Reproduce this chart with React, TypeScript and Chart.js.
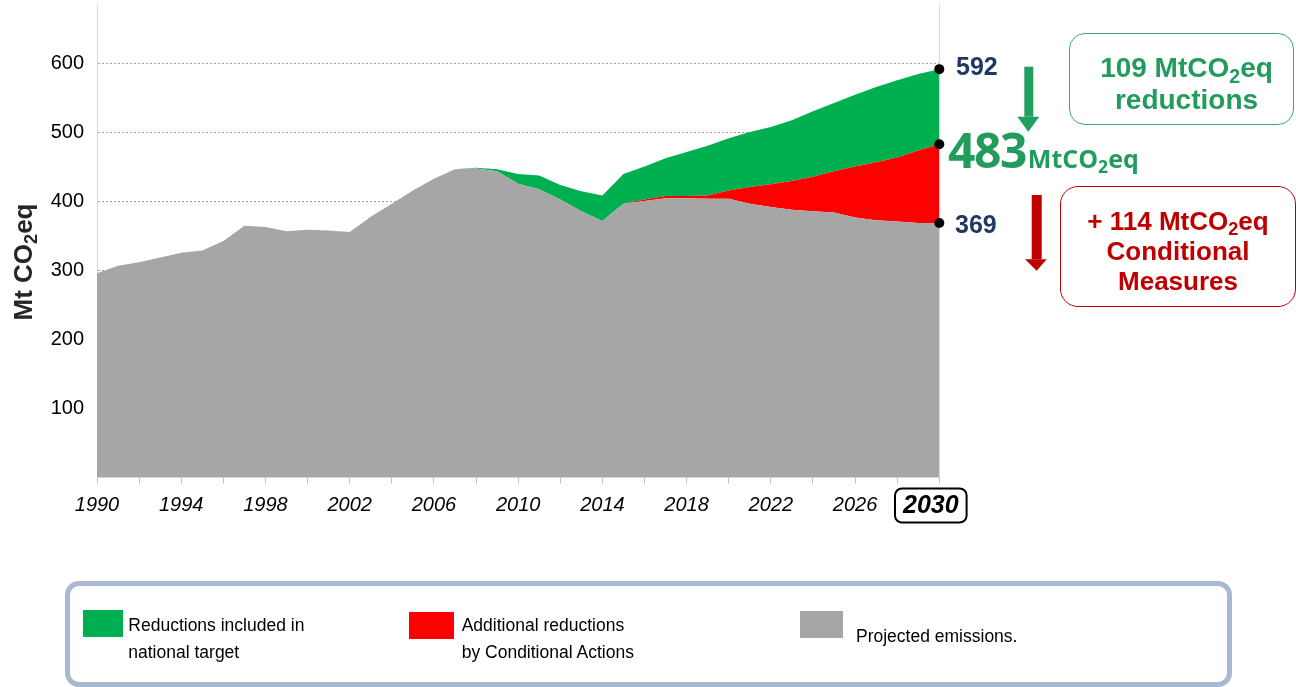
import React, { useEffect, useRef } from 'react';
import { Chart, registerables } from 'chart.js';

Chart.register(...registerables);

// ---------- data ----------
const years = [
  1990, 1991, 1992, 1993, 1994, 1995, 1996, 1997, 1998, 1999,
  2000, 2001, 2002, 2003, 2004, 2005, 2006, 2007, 2008, 2009,
  2010, 2011, 2012, 2013, 2014, 2015, 2016, 2017, 2018, 2019,
  2020, 2021, 2022, 2023, 2024, 2025, 2026, 2027, 2028, 2029, 2030,
];

// Projected emissions (grey)
const projectedEmissions = [
  296, 307, 312, 319, 326, 329, 343, 365, 363, 357,
  359, 358, 356, 378, 397, 416, 433, 447, 448, 444,
  426, 418, 403, 386, 372, 397, 401, 405, 405, 404,
  404, 397, 392, 388, 386, 384, 377, 373, 371, 369, 369,
];

// Top of the red band (emissions without conditional actions)
const conditionalTop = [
  null, null, null, null, null, null, null, null, null, null,
  null, null, null, null, null, null, null, 447, 448, 444,
  426, 418, 403, 386, 372, 397, 403, 408, 408, 409,
  416, 421, 425, 430, 436, 444, 451, 457, 464, 474, 483,
];

// Top of the green band (business as usual)
const nationalTop = [
  null, null, null, null, null, null, null, null, null, null,
  null, null, null, null, null, null, null, 447, 449, 447,
  440, 438, 424, 415, 409, 440, 451, 463, 472, 481,
  492, 501, 508, 518, 531, 543, 555, 566, 576, 585, 592,
];

const seriesLabels = [
  'Projected emissions.',
  'Additional reductions by Conditional Actions',
  'Reductions included in national target',
];
const seriesColors = ['#A6A6A6', '#FF0000', '#00B050'];

const FONT = '"Liberation Sans", Arial, Helvetica, sans-serif';

const toPoints = (vals: (number | null)[]) =>
  years.map((yr, i) => ({ x: yr, y: vals[i] }));

const decorPlugin = {
  id: 'decor',
  beforeDatasetsDraw(chart: any) {
    const { ctx, chartArea } = chart;
    const x = Math.round(chart.scales.x.getPixelForValue(2030)) + 0.5;
    ctx.save();
    ctx.strokeStyle = '#D9D9D9';
    ctx.lineWidth = 1;
    ctx.beginPath();
    ctx.moveTo(x, chartArea.top);
    ctx.lineTo(x, chartArea.bottom);
    ctx.stroke();
    ctx.restore();
  },
  afterDraw(chart: any) {
    const { ctx, chartArea } = chart;
    const cx = chart.scales.x.getPixelForValue(2030) - 8.5;
    const cy = chartArea.bottom + 28;
    ctx.save();
    ctx.font = `italic bold 25px ${FONT}`;
    const w = ctx.measureText('2030').width;
    const bx = cx - w / 2 - 8;
    const bw = w + 16;
    const by = cy - 17;
    const bh = 34;
    ctx.beginPath();
    ctx.roundRect(bx, by, bw, bh, 7);
    ctx.fillStyle = '#fff';
    ctx.fill();
    ctx.lineWidth = 2;
    ctx.strokeStyle = '#000';
    ctx.stroke();
    ctx.fillStyle = '#000';
    ctx.textAlign = 'center';
    ctx.textBaseline = 'middle';
    ctx.fillText('2030', cx, cy + 1);
    ctx.restore();
  },
};

export default function App() {
  const canvasRef = useRef<HTMLCanvasElement | null>(null);

  useEffect(() => {
    const canvas = canvasRef.current;
    if (!canvas) return;
    const last = years.length - 1;
    const dotRadius = (c: any) => (c.dataIndex === last ? 5 : 0);
    const chart = new Chart(canvas, {
      type: 'line',
      data: {
        datasets: [
          {
            label: seriesLabels[0],
            data: toPoints(projectedEmissions),
            backgroundColor: seriesColors[0],
            borderColor: 'transparent',
            borderWidth: 0,
            fill: 'origin',
            pointRadius: dotRadius,
            pointBackgroundColor: '#000',
            pointBorderWidth: 0,
            clip: false,
          },
          {
            label: seriesLabels[1],
            data: toPoints(conditionalTop),
            backgroundColor: seriesColors[1],
            borderColor: 'transparent',
            borderWidth: 0,
            fill: '-1',
            pointRadius: dotRadius,
            pointBackgroundColor: '#000',
            pointBorderWidth: 0,
            clip: false,
          },
          {
            label: seriesLabels[2],
            data: toPoints(nationalTop),
            backgroundColor: seriesColors[2],
            borderColor: 'transparent',
            borderWidth: 0,
            fill: '-1',
            pointRadius: dotRadius,
            pointBackgroundColor: '#000',
            pointBorderWidth: 0,
            clip: false,
          },
        ],
      } as any,
      options: {
        responsive: false,
        animation: false,
        events: [],
        layout: { padding: { left: 0, top: 4, right: 356.7, bottom: 149.5 } },
        elements: { line: { tension: 0 } },
        plugins: {
          legend: { display: false },
          tooltip: { enabled: false },
        },
        scales: {
          x: {
            type: 'linear',
            min: 1990,
            max: 2030,
            afterFit: (s: any) => {
              s.height = 60;
              s.paddingLeft = 0;
              s.paddingRight = 0;
            },
            grid: {
              drawOnChartArea: false,
              drawTicks: true,
              tickLength: 6,
              color: '#BFBFBF',
            },
            border: { display: true, color: '#D9D9D9' },
            ticks: {
              stepSize: 2,
              autoSkip: false,
              includeBounds: false,
              maxRotation: 0,
              padding: 10,
              color: '#000',
              font: { family: FONT, size: 20, style: 'italic' },
              callback: (v: any) =>
                (Number(v) - 1990) % 4 === 0 && Number(v) !== 2030 ? String(v) : '',
            },
          },
          y: {
            min: 0,
            max: 685,
            afterFit: (s: any) => {
              s.width = 97;
              s.paddingTop = 0;
              s.paddingBottom = 0;
            },
            grid: {
              drawTicks: false,
              color: '#A0A0A0',
              lineWidth: 1,
            },
            border: { display: true, color: '#D9D9D9', dash: [2, 2] },
            ticks: {
              stepSize: 100,
              includeBounds: false,
              padding: 13,
              color: '#000',
              font: { family: FONT, size: 20 },
              callback: (v: any) => (Number(v) === 0 ? '' : String(v)),
            },
          },
        },
      } as any,
      plugins: [decorPlugin],
    });
    return () => chart.destroy();
  }, []);

  const green = '#219C5C';
  const red = '#C00000';
  const navy = '#1F3864';

  const abs = (o: React.CSSProperties): React.CSSProperties => ({ position: 'absolute', ...o });
  const sub: React.CSSProperties = { fontSize: '0.7em', verticalAlign: '-0.3em', lineHeight: 0 };

  return (
    <div
      style={{
        position: 'fixed',
        left: 0,
        top: 0,
        width: 1296,
        height: 687,
        background: '#fff',
        overflow: 'hidden',
        fontFamily: FONT,
      }}
    >
      <canvas
        ref={canvasRef}
        width={1296}
        height={687}
        style={{ position: 'absolute', left: 0, top: 0, width: 1296, height: 687 }}
      />

      {/* y-axis title */}
      <div
        style={abs({
          left: 23 - 100,
          top: 261.5 - 15,
          width: 200,
          height: 30,
          lineHeight: '30px',
          textAlign: 'center',
          fontWeight: 'bold',
          fontSize: 26,
          color: '#262626',
          transform: 'rotate(-90deg)',
          whiteSpace: 'nowrap',
        })}
      >
        Mt CO<span style={sub}>2</span>eq
      </div>

      {/* end-point values */}
      <div style={abs({ left: 956, top: 54, fontSize: 25, lineHeight: '25px', fontWeight: 'bold', color: navy })}>592</div>
      <div style={abs({ left: 955, top: 211.5, fontSize: 25, lineHeight: '25px', fontWeight: 'bold', color: navy })}>369</div>

      <div
        style={abs({
          left: 948,
          top: 125.7,
          fontFamily: '"Open Sans", "Noto Sans", sans-serif',
          fontWeight: 700,
          fontSize: 48,
          lineHeight: '48px',
          color: green,
          whiteSpace: 'nowrap',
        })}
      >
        <span style={{ letterSpacing: '-1.5px' }}>483</span>
        <span style={{ fontSize: 25, lineHeight: 1, marginLeft: 2 }}>
          MtCO<span style={sub}>2</span>eq
        </span>
      </div>

      {/* arrows */}
      <svg width={1296} height={687} style={abs({ left: 0, top: 0, pointerEvents: 'none' })}>
        <rect x={1024.3} y={66.7} width={9} height={50} fill="#22A060" />
        <polygon points="1017.3,116.7 1039.3,116.7 1028.3,131.7" fill="#22A060" />
        <rect x={1031.7} y={195} width={10} height={64.3} fill={red} />
        <polygon points="1025,259.3 1046.7,259.3 1036.7,270.7" fill={red} />
      </svg>

      {/* green box */}
      <div
        style={abs({
          left: 1069,
          top: 33,
          width: 225,
          height: 92,
          boxSizing: 'border-box',
          border: '1.5px solid #3FA86E',
          borderRadius: 16,
          paddingTop: 18,
          paddingLeft: 10,
          textAlign: 'center',
          fontWeight: 'bold',
          fontSize: 28,
          lineHeight: '32px',
          color: green,
          whiteSpace: 'nowrap',
        })}
      >
        <div>
          109 MtCO<span style={sub}>2</span>eq
        </div>
        <div>reductions</div>
      </div>

      {/* red box */}
      <div
        style={abs({
          left: 1060,
          top: 186,
          width: 236,
          height: 121,
          boxSizing: 'border-box',
          border: `1.5px solid ${red}`,
          borderRadius: 18,
          paddingTop: 18.5,
          textAlign: 'center',
          fontWeight: 'bold',
          fontSize: 26,
          lineHeight: '30px',
          color: red,
          whiteSpace: 'nowrap',
        })}
      >
        <div>
          + 114 MtCO<span style={sub}>2</span>eq
        </div>
        <div>Conditional</div>
        <div>Measures</div>
      </div>

      {/* legend */}
      <div
        style={abs({
          left: 65,
          top: 581,
          width: 1167,
          height: 106,
          boxSizing: 'border-box',
          border: '5px solid #A9B9D1',
          borderRadius: 14,
        })}
      />
      <div style={abs({ left: 82.7, top: 610, width: 40, height: 27, background: seriesColors[2] })} />
      <div style={abs({ left: 128.3, top: 612, fontSize: 17.5, lineHeight: '26.7px', color: '#000', whiteSpace: 'nowrap' })}>
        Reductions included in
        <br />
        national target
      </div>
      <div style={abs({ left: 409, top: 612.3, width: 45, height: 27, background: seriesColors[1] })} />
      <div style={abs({ left: 461.7, top: 612, fontSize: 17.5, lineHeight: '26.7px', color: '#000', whiteSpace: 'nowrap' })}>
        Additional reductions
        <br />
        by Conditional Actions
      </div>
      <div style={abs({ left: 800, top: 611, width: 43, height: 27, background: seriesColors[0] })} />
      <div style={abs({ left: 856, top: 623.3, fontSize: 17.5, lineHeight: '26.7px', color: '#000', whiteSpace: 'nowrap' })}>
        Projected emissions.
      </div>
    </div>
  );
}
